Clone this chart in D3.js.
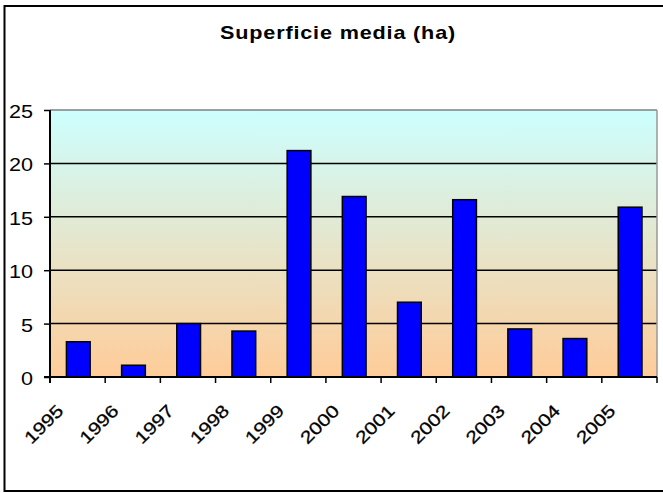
<!DOCTYPE html>
<html><head><meta charset="utf-8">
<script src="https://cdn.jsdelivr.net/npm/d3@7"></script>
<style>body{margin:0;background:#fff}svg{display:block}</style>
</head><body>
<script>
const categories = ["1995","1996","1997","1998","1999","2000","2001","2002","2003","2004","2005"];
const values = [3.3, 1.1, 5.0, 4.3, 21.2, 16.9, 7.0, 16.6, 4.5, 3.6, 15.9];
const yTicks = [0, 5, 10, 15, 20, 25];
const title = "Superficie media (ha)";

(function () {
const W = 663, H = 493;
const pLeft = 50, pRight = 657, pTop = 110, pBottom = 377;
const FONT = "Arial, 'Liberation Sans', sans-serif";
const svg = d3.select("body").append("svg").attr("width", W).attr("height", H);

// outer frame
svg.append("rect").attr("x", 4.5).attr("y", 6).attr("width", 700).attr("height", 485)
  .attr("fill", "#fff").attr("stroke", "#000").attr("stroke-width", 2);

const defs = svg.append("defs");
const g = defs.append("linearGradient").attr("id", "bg").attr("x1", 0).attr("y1", 0).attr("x2", 0).attr("y2", 1);
g.append("stop").attr("offset", "0%").attr("stop-color", "#CCFFFF");
g.append("stop").attr("offset", "100%").attr("stop-color", "#FFCC99");

const x = d3.scaleBand().domain(categories).range([pLeft, pRight]).paddingInner(0).paddingOuter(0);
const y = d3.scaleLinear().domain([0, 25]).range([pBottom, pTop]);

svg.append("rect").attr("x", pLeft).attr("y", pTop).attr("width", pRight - pLeft).attr("height", pBottom - pTop)
  .attr("fill", "url(#bg)");

// gridlines
svg.selectAll("line.grid").data(yTicks.filter(d => d > 0)).enter().append("line")
  .attr("x1", pLeft).attr("x2", pRight).attr("y1", d => y(d)).attr("y2", d => y(d))
  .attr("stroke", d => d === 25 ? "#808080" : "#000").attr("stroke-width", 1.5);
// right border
svg.append("line").attr("x1", pRight).attr("x2", pRight).attr("y1", pTop).attr("y2", pBottom)
  .attr("stroke", "#999").attr("stroke-width", 1.5);

// bars
const bw = x.bandwidth() * 0.43;
svg.selectAll("rect.bar").data(values).enter().append("rect")
  .attr("x", (d, i) => x(categories[i]) + (x.bandwidth() - bw) / 2 + 0.7)
  .attr("y", d => y(d)).attr("width", bw).attr("height", d => pBottom - y(d))
  .attr("fill", "#0000FF").attr("stroke", "#000").attr("stroke-width", 1.5);

// y axis
const ya = svg.append("g").attr("transform", `translate(${pLeft},0)`)
  .call(d3.axisLeft(y).tickValues(yTicks).tickSize(6).tickPadding(0));
ya.select(".domain").attr("stroke", "#000").attr("stroke-width", 2).attr("d", `M0,${pTop}V${pBottom + 6}`);
ya.selectAll(".tick line").attr("stroke", "#000").attr("stroke-width", 1.5);
ya.selectAll(".tick text").attr("x", 0).attr("dy", "0.36em")
  .attr("transform", "translate(-17,1) scale(1.2,1)")
  .attr("font-family", FONT).attr("font-size", 18).attr("fill", "#000");

// x axis
const xa = svg.append("g").attr("transform", `translate(0,${pBottom})`);
xa.append("line").attr("x1", pLeft - 6).attr("x2", pRight).attr("y1", 0).attr("y2", 0)
  .attr("stroke", "#000").attr("stroke-width", 2);
const bounds = categories.map(c => x(c)).concat([pRight]);
xa.selectAll("line.tk").data(bounds).enter().append("line")
  .attr("x1", d => d).attr("x2", d => d).attr("y1", 0).attr("y2", 6)
  .attr("stroke", "#000").attr("stroke-width", 1.5);
xa.selectAll("text.lbl").data(categories).enter().append("text")
  .attr("transform", d => `translate(${x(d) + x.bandwidth() / 2 - 13},${35}) rotate(-45) scale(1.2,1)`)
  .attr("text-anchor", "end")
  .attr("font-family", FONT).attr("font-size", 17.5).attr("fill", "#000")
  .attr("stroke", "#000").attr("stroke-width", 0.3)
  .text(d => d);

svg.append("text").attr("transform", "translate(338,39) scale(1.2,1)").attr("text-anchor", "middle")
  .attr("font-family", FONT).attr("font-size", 18).attr("font-weight", "bold")
  .attr("letter-spacing", 0.7)
  .text(title);
})();
</script>
</body></html>
